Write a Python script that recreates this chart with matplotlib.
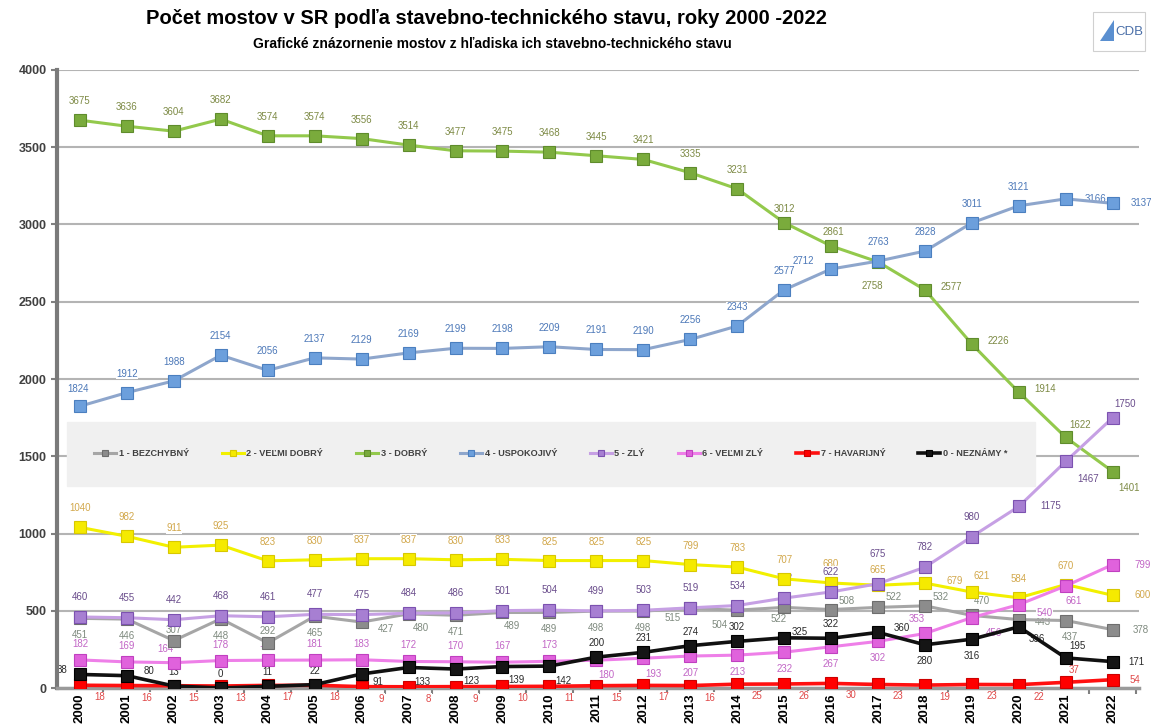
import numpy as np
import matplotlib
matplotlib.use('Agg')
from matplotlib import pyplot as plt
from matplotlib.patches import Rectangle, Polygon

plt.rcParams['font.family'] = ['Liberation Sans', 'DejaVu Sans']

# Data
years = [str(y) for y in range(2000, 2023)]
bezchybny = [451, 446, 307, 448, 292, 465, 427, 480, 471, 489, 489, 498, 498,
             515, 504, 522, 508, 522, 532, 470, 443, 437, 378]
velmi_dobry = [1040, 982, 911, 925, 823, 830, 837, 837, 830, 833, 825, 825, 825,
               799, 783, 707, 680, 665, 679, 621, 584, 670, 600]
dobry = [3675, 3636, 3604, 3682, 3574, 3574, 3556, 3514, 3477, 3475, 3468, 3445, 3421,
         3335, 3231, 3012, 2861, 2758, 2577, 2226, 1914, 1622, 1401]
uspokojivy = [1824, 1912, 1988, 2154, 2056, 2137, 2129, 2169, 2199, 2198, 2209, 2191, 2190,
              2256, 2343, 2577, 2712, 2763, 2828, 3011, 3121, 3166, 3137]
zly = [460, 455, 442, 468, 461, 477, 475, 484, 486, 501, 504, 499, 503,
       519, 534, 582, 622, 675, 782, 980, 1175, 1467, 1750]
velmi_zly = [182, 169, 164, 178, 180, 181, 183, 172, 170, 167, 173, 180, 193,
             207, 213, 232, 267, 302, 353, 456, 540, 661, 799]
havarijny = [18, 16, 15, 13, 17, 18, 9, 8, 9, 10, 11, 15, 17,
             16, 25, 26, 30, 23, 19, 23, 22, 37, 54]
neznamy = [88, 80, 13, 0, 11, 22, 91, 133, 123, 139, 142, 200, 231,
           274, 302, 325, 322, 360, 280, 316, 396, 195, 171]

# Styl serii: (nazov, data, farba ciary, farba znacky, okraj znacky, farba popisu)
series = [
    ('1 - BEZCHYBNÝ', bezchybny, '#a6a6a6', '#8c8c8c', '#6e6e6e', '#7f8a7f'),
    ('2 - VEĽMI DOBRÝ', velmi_dobry, '#f2f000', '#f5ea00', '#d8c800', '#d2a84c'),
    ('3 - DOBRÝ', dobry, '#93c94c', '#7aab3c', '#5f8c2c', '#7d8a45'),
    ('4 - USPOKOJIVÝ', uspokojivy, '#8ea6cc', '#6c9fdc', '#4b7fbf', '#4c78b8'),
    ('5 - ZLÝ', zly, '#c6a0e4', '#a77fd2', '#7c52b0', '#6a4d8c'),
    ('6 - VEĽMI ZLÝ', velmi_zly, '#ee7fe8', '#e062dc', '#c040c0', '#c266c6'),
    ('7 - HAVARIJNÝ', havarijny, '#ff1010', '#ff0000', '#cc0000', '#e04848'),
    ('0 - NEZNÁMY *', neznamy, '#111111', '#151515', '#000000', '#2a2a2a'),
]

# Posuny popisov v pixeloch: predvolene a vynimky podla indexu roku
label_pos = {
    '1 - BEZCHYBNÝ': ((0, -17), {2: (0, 11), 4: (0, 12), 6: (24, -7), 7: (12, -14),
                                  9: (9, -14), 13: (-18, -10), 14: (-18, -15),
                                  15: (-6, -12), 16: (16, 9), 17: (16, 10), 18: (16, 9),
                                  19: (10, 14), 20: (24, -2), 21: (4, -16), 22: (28, 0)}),
    '2 - VEĽMI DOBRÝ': ((0, 19), {17: (0, 15), 18: (30, 2), 19: (10, 16), 22: (30, 0)}),
    '3 - DOBRÝ': ((0, 19), {15: (0, 14), 16: (2, 14), 17: (-6, -24), 18: (26, 3),
                            19: (26, 3), 20: (26, 3), 21: (14, 12), 22: (16, -16)}),
    '4 - USPOKOJIVÝ': ((0, 19), {0: (-2, 17), 16: (-28, 8), 21: (30, 0), 22: (29, 0)}),
    '5 - ZLÝ': ((0, 20), {17: (0, 30), 20: (32, 0), 21: (22, -18), 22: (12, 14)}),
    '6 - VEĽMI ZLÝ': ((0, 16), {2: (-8, 14), 11: (10, -15), 12: (10, -16), 13: (0, -17),
                                14: (0, -17), 15: (0, -17), 16: (0, -17), 17: (0, -17),
                                18: (-8, 14), 19: (22, -15), 20: (26, -8), 21: (8, -15),
                                22: (30, 0)}),
    '7 - HAVARIJNÝ': ((20, -12), {21: (8, 12), 22: (22, 0)}),
    '0 - NEZNÁMY *': ((0, 14), {0: (-18, 4), 1: (22, 5), 6: (16, -8), 7: (14, -15),
                                8: (16, -12), 9: (14, -13), 10: (14, -15), 15: (16, 6),
                                17: (24, 4), 18: (0, -16), 19: (0, -17), 20: (18, -12),
                                21: (12, 12), 22: (24, 0)}),
}

fig = plt.figure(figsize=(11.51, 7.26), dpi=100)
ax = fig.add_axes([0.0495, 0.0523, 0.9405, 0.8513])

x = np.arange(len(years))
for name, values, lc, mc, mec, tc in series:
    lw = 2.6 if name.startswith(('7', '0')) else 2.2
    ax.plot(x, values, color=lc, lw=lw, marker='s', markersize=8.5,
            markerfacecolor=mc, markeredgecolor=mec, markeredgewidth=0.8,
            label=name, zorder=3)
    default, extra = label_pos[name]
    for i, v in enumerate(values):
        dx, dy = extra.get(i, default)
        ax.annotate(str(v), (x[i], v), xytext=(dx, dy), textcoords='offset pixels',
                    ha='center', va='center', fontsize=7, color=tc, zorder=2,
                    bbox=dict(boxstyle='square,pad=0.05', fc='white', ec='none'))

ax.set_xlim(-0.49, 22.57)
ax.set_ylim(0, 4000)
ax.set_yticks(np.arange(0, 4001, 500))
ax.set_xticks(x)
ax.set_xticks(x + 0.5, minor=True)
ax.set_xticklabels(years, rotation=90, fontsize=9.5, fontweight='bold')
ax.tick_params(axis='x', which='major', length=0, pad=4)
ax.tick_params(axis='x', which='minor', length=4, color='#808080', width=1.5)
ax.tick_params(axis='y', length=4, color='#808080', width=1.5,
               labelsize=9, labelcolor='#404040')
for lab in ax.get_yticklabels():
    lab.set_fontweight('bold')

ax.grid(axis='y', color='#b4b4b4', lw=1.5, zorder=0)
ax.set_axisbelow(True)
for s in ['top', 'right']:
    ax.spines[s].set_visible(False)
ax.spines['left'].set_color('#7a7a7a')
ax.spines['left'].set_linewidth(3)
ax.spines['bottom'].set_color('#9a9a9a')
ax.spines['bottom'].set_linewidth(2.5)

leg = ax.legend(loc='lower left', bbox_to_anchor=(0.0046, 0.32, 0.903, 0.105),
                mode='expand', ncol=8, fontsize=6.6, frameon=True, fancybox=False,
                facecolor='#f0f0f0', edgecolor='#f0f0f0', framealpha=1,
                borderpad=3.0, handlelength=2.4, markerscale=0.55,
                columnspacing=0.8, handletextpad=0.3)
for t in leg.get_texts():
    t.set_color('#404040')
    t.set_fontweight('bold')

# Titulky
fig.text(0.423, 0.975, 'Počet mostov v SR podľa stavebno-technického stavu, roky 2000 -2022',
         ha='center', va='center', fontsize=14.5, fontweight='bold')
fig.text(0.428, 0.94, 'Grafické znázornenie mostov z hľadiska ich stavebno-technického stavu',
         ha='center', va='center', fontsize=10, fontweight='bold')

# Logo CDB
fig.patches.append(Rectangle((0.950, 0.93), 0.045, 0.053, transform=fig.transFigure,
                             fc='white', ec='#d0d0d0', lw=0.8))
fig.patches.append(Polygon([[0.956, 0.943], [0.968, 0.943], [0.968, 0.972]],
                           closed=True, transform=fig.transFigure,
                           fc='#5a8fd0', ec='none'))
fig.text(0.981, 0.956, 'CDB', ha='center', va='center', fontsize=9.5, color='#4a6fa8')

plt.savefig('out.png', dpi=100)
